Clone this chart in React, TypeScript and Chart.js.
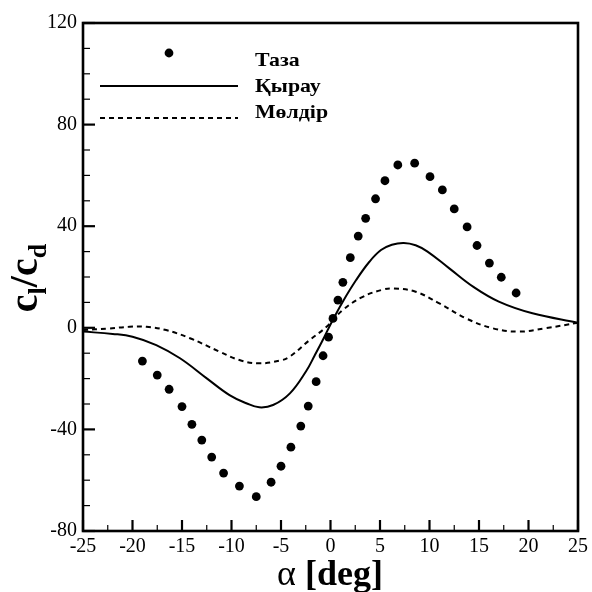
import React, { useEffect, useRef } from "react";
import { Chart, registerables } from "chart.js";

Chart.register(...registerables);

const seriesNames = ["Таза", "Қырау", "Мөлдір"];

// Таза (clean) – scatter points
const cleanAlpha = [-19.0, -17.5, -16.3, -15.0, -14.0, -13.0, -12.0, -10.8, -9.2, -7.5, -6.0, -5.0, -4.0, -3.0, -2.25, -1.45, -0.75, -0.2, 0.25, 0.75, 1.25, 2.0, 2.8, 3.55, 4.55, 5.5, 6.8, 8.5, 10.05, 11.3, 12.5, 13.8, 14.8, 16.05, 17.25, 18.75];
const cleanRatio = [-13.1, -18.6, -24.2, -31.0, -38.0, -44.2, -50.9, -57.2, -62.3, -66.5, -60.8, -54.5, -47.0, -38.7, -30.8, -21.2, -11.0, -3.7, 3.7, 10.9, 17.9, 27.6, 36.1, 43.1, 50.8, 57.9, 64.1, 64.8, 59.5, 54.3, 46.8, 39.7, 32.4, 25.5, 19.9, 13.7];

// Қырау (iced) – solid line
const iceAlpha = [-25, -22, -20, -17.6, -15.2, -12.5, -10.2, -8.5, -7.2, -5.8, -4.1, -2.45, -1.6, -0.78, 0.23, 1.24, 2.59, 3.93, 5.1, 6.2, 7.4, 8.6, 9.8, 12.0, 14.4, 17.0, 20.4, 25];
const iceRatio = [-1.5, -2.4, -3.5, -6.8, -12.0, -19.9, -26.5, -29.7, -31.3, -30.4, -25.8, -17.0, -10.9, -4.8, 3.1, 10.3, 18.8, 26.0, 30.6, 32.7, 33.4, 32.5, 30.0, 23.4, 16.2, 10.3, 5.7, 2.0];

// Мөлдір (glaze) – dashed line
const glazeAlpha = [-25, -22.5, -20.3, -18.6, -16.6, -14.2, -11.2, -9.2, -7.2, -5.1, -4.13, -2.1, -0.4, 1.24, 3.26, 5.27, 6.4, 8.6, 11.0, 13.7, 16.4, 19.0, 21.7, 25];
const glazeRatio = [-0.9, -0.3, 0.4, 0.4, -0.9, -4.1, -9.4, -12.7, -14.0, -12.9, -11.4, -4.8, 0.4, 7.0, 12.2, 15.0, 15.5, 14.2, 9.6, 3.7, -0.2, -1.5, -0.2, 2.0];

const xTicks = { min: -25, max: 25, step: 5, minor: 2.5 };
const yTicks = { min: -80, max: 120, step: 40, minor: 10 };

const SERIF = "'Liberation Serif', 'Times New Roman', serif";

const zip = (a: number[], b: number[]) => a.map((x, i) => ({ x, y: b[i] }));

const framePlugin = {
  id: "framePlugin",
  afterDraw(chart: any) {
    const ctx = chart.ctx;
    const { left, right, top, bottom } = chart.chartArea;
    const xs = chart.scales.x;
    const ys = chart.scales.y;
    ctx.save();
    ctx.strokeStyle = "#000";
    for (let v = xs.min; v <= xs.max + 1e-9; v += xTicks.minor) {
      const px = xs.getPixelForValue(v);
      const major = Math.abs(v / xTicks.step - Math.round(v / xTicks.step)) < 1e-6;
      ctx.lineWidth = major ? 2.2 : 1.2;
      ctx.beginPath();
      ctx.moveTo(px, bottom);
      ctx.lineTo(px, bottom - (major ? 11 : 6));
      ctx.stroke();
    }
    for (let v = ys.min; v <= ys.max + 1e-9; v += yTicks.minor) {
      const py = ys.getPixelForValue(v);
      const major = Math.abs(v / yTicks.step - Math.round(v / yTicks.step)) < 1e-6;
      ctx.lineWidth = major ? 2.2 : 1.2;
      ctx.beginPath();
      ctx.moveTo(left, py);
      ctx.lineTo(left + (major ? 12 : 7), py);
      ctx.stroke();
    }
    ctx.lineWidth = 2.6;
    ctx.strokeRect(left, top, right - left, bottom - top);

    // legend
    ctx.fillStyle = "#000";
    ctx.textBaseline = "alphabetic";
    ctx.textAlign = "left";
    ctx.beginPath();
    ctx.arc(169, 53, 4.4, 0, Math.PI * 2);
    ctx.fill();
    ctx.lineWidth = 2;
    ctx.setLineDash([]);
    ctx.beginPath();
    ctx.moveTo(100, 86);
    ctx.lineTo(238, 86);
    ctx.stroke();
    ctx.setLineDash([5, 4]);
    ctx.beginPath();
    ctx.moveTo(100, 118);
    ctx.lineTo(238, 118);
    ctx.stroke();
    ctx.setLineDash([]);
    const legendText = (t: string, x: number, y: number) => {
      ctx.save();
      ctx.translate(x, y);
      ctx.scale(1.15, 1);
      ctx.font = `bold 19px ${SERIF}`;
      ctx.fillText(t, 0, 0);
      ctx.restore();
    };
    legendText(seriesNames[0], 255, 66);
    legendText(seriesNames[1], 255, 92);
    legendText(seriesNames[2], 255, 118);

    // x title: α [deg]
    ctx.textAlign = "left";
    ctx.font = `36px ${SERIF}`;
    const a = "α ";
    const wa = ctx.measureText(a).width;
    ctx.font = `bold 36px ${SERIF}`;
    const rest = "[deg]";
    const wr = ctx.measureText(rest).width;
    const startX = 330 - (wa + wr) / 2;
    ctx.font = `36px ${SERIF}`;
    ctx.fillText(a, startX, 585);
    ctx.font = `bold 36px ${SERIF}`;
    ctx.fillText(rest, startX + wa, 585);

    // y title c_l/c_d
    ctx.translate(37, 278);
    ctx.rotate(-Math.PI / 2);
    const big = `bold 40px ${SERIF}`;
    const small = `bold 26px ${SERIF}`;
    const parts: [string, string, number][] = [
      ["c", big, 0],
      ["l", small, 9],
      ["/", big, 0],
      ["c", big, 0],
      ["d", small, 9],
    ];
    let total = 0;
    for (const [t, f] of parts) {
      ctx.font = f;
      total += ctx.measureText(t).width;
    }
    let cx = -total / 2;
    for (const [t, f, dy] of parts) {
      ctx.font = f;
      ctx.fillText(t, cx, dy);
      cx += ctx.measureText(t).width;
    }
    ctx.restore();
  },
};

export default function App() {
  const ref = useRef<HTMLCanvasElement | null>(null);
  useEffect(() => {
    document.body.style.margin = "0";
    const canvas = ref.current!;
    const chart = new Chart(canvas, {
      type: "scatter",
      data: {
        datasets: [
          {
            label: seriesNames[0],
            data: zip(cleanAlpha, cleanRatio),
            showLine: false,
            pointRadius: 4.4,
            pointBackgroundColor: "#000",
            pointBorderWidth: 0,
            borderColor: "#000",
          },
          {
            label: seriesNames[1],
            data: zip(iceAlpha, iceRatio),
            showLine: true,
            pointRadius: 0,
            borderColor: "#000",
            borderWidth: 2,
            tension: 0.4,
          },
          {
            label: seriesNames[2],
            data: zip(glazeAlpha, glazeRatio),
            showLine: true,
            pointRadius: 0,
            borderColor: "#000",
            borderWidth: 2,
            borderDash: [5, 4],
            tension: 0.4,
          },
        ],
      },
      options: {
        animation: false,
        responsive: false,
        maintainAspectRatio: false,
        layout: { padding: { top: 23, right: 13, left: 0, bottom: 0 } },
        plugins: { legend: { display: false }, tooltip: { enabled: false } },
        scales: {
          x: {
            type: "linear",
            min: xTicks.min,
            max: xTicks.max,
            ticks: {
              stepSize: xTicks.step,
              color: "#000",
              font: { family: SERIF, size: 20 },
              padding: 4,
              maxRotation: 0,
            },
            grid: { display: false, drawTicks: false },
            border: { display: false },
            afterFit: (s: any) => {
              s.height = 61;
            },
          },
          y: {
            type: "linear",
            min: yTicks.min,
            max: yTicks.max,
            ticks: {
              stepSize: yTicks.step,
              color: "#000",
              font: { family: SERIF, size: 20 },
              padding: 6,
            },
            grid: { display: false, drawTicks: false },
            border: { display: false },
            afterFit: (s: any) => {
              s.width = 83;
            },
          },
        },
      },
      plugins: [framePlugin],
    } as any);
    return () => chart.destroy();
  }, []);
  return <canvas ref={ref} width={592} height={592} style={{ display: "block" }} />;
}
